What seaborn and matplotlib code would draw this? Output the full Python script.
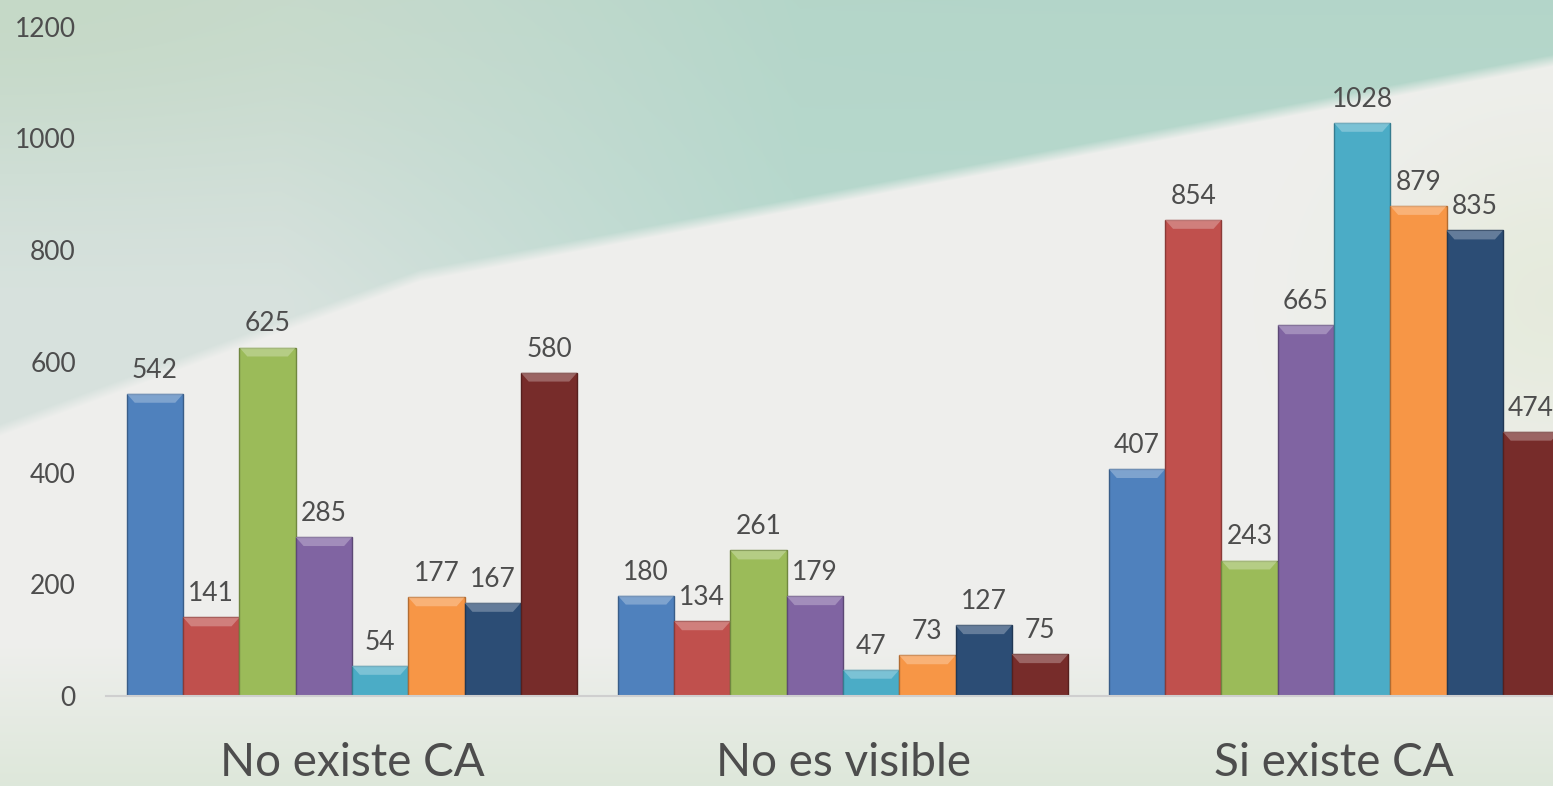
import numpy as np
import pandas as pd
import matplotlib
matplotlib.use("Agg")
import matplotlib.pyplot as plt
import matplotlib.colors as mcolors
from matplotlib.patches import Polygon
import seaborn as sns

# Data
categories = ["No existe CA", "No es visible", "Si existe CA"]
series = ["Serie 1", "Serie 2", "Serie 3", "Serie 4",
          "Serie 5", "Serie 6", "Serie 7", "Serie 8"]
values_no_existe = [542, 141, 625, 285, 54, 177, 167, 580]
values_no_visible = [180, 134, 261, 179, 47, 73, 127, 75]
values_si_existe = [407, 854, 243, 665, 1028, 879, 835, 474]
colors = ["#4F81BD", "#C0504D", "#9BBB59", "#8064A2",
          "#4BACC6", "#F79646", "#2C4D75", "#772C2A"]
y_ticks = [0, 200, 400, 600, 800, 1000, 1200]

rows = []
for cat, vals in zip(categories, [values_no_existe, values_no_visible, values_si_existe]):
    for s, v in zip(series, vals):
        rows.append({"categoria": cat, "serie": s, "valor": v})
df = pd.DataFrame(rows)

sns.set_style("white")
plt.rcParams['font.family'] = ['Lato', 'DejaVu Sans']
text_color = "#4d4d4d"

W, H = 1553, 786
fig = plt.figure(figsize=(W / 100, H / 100), dpi=100)

# background gradient
yy, xx = np.mgrid[0:H, 0:W].astype(float)
img = np.ones((H, W, 3)) * np.array([239, 239, 237]) / 255


def blend(base, color, alpha):
    return base * (1 - alpha[..., None]) + np.array(color) / 255 * alpha[..., None]


# pale green at the bottom
img = blend(img, (214, 228, 210), np.clip((yy - 640) / 146, 0, 1) * 0.7)
# teal band above the diagonal
boundary = np.where(xx < 420, 430 - xx * (155 / 420), 275 - (xx - 420) * (215 / 1133))
upper = np.clip((boundary - yy) / 12 + 0.5, 0, 1)
t = np.clip((xx - 280) / 520, 0, 1)
top_fade = np.clip(1 - yy / 300, 0, 1)
pale = np.array([216, 226, 222]) / 255
teal = np.array([184, 217, 207]) / 255
upper_col = (1 - t[..., None]) * pale + t[..., None] * teal
upper_col = upper_col * (1 - 0.35 * top_fade[..., None]) + np.array([172, 208, 190]) / 255 * 0.35 * top_fade[..., None]
img = img * (1 - upper[..., None]) + upper_col * upper[..., None]
# greenish top-left corner
img = blend(img, (196, 216, 194), np.exp(-((xx / 450) ** 2 + (yy / 150) ** 2)) * 0.7)
# pale yellow-green on the right side
img = blend(img, (226, 233, 214), np.exp(-(((xx - 1553) / 180) ** 2 + ((yy - 300) / 160) ** 2)) * 0.7 * (1 - upper))

bg = fig.add_axes([0, 0, 1, 1], zorder=-1)
bg.imshow(img, aspect="auto", extent=[0, W, H, 0])
bg.axis("off")

ax = fig.add_axes([106.5 / W, 90 / H, 1473 / W, 669 / H])
ax.patch.set_alpha(0)

sns.barplot(data=df, x="categoria", y="valor", hue="serie", palette=colors,
            width=0.917, saturation=1, legend=False, ax=ax, errorbar=None)

# bevel look on bars: lighter trapezoid on top
bars = list(ax.patches)
for patch in bars:
    rgb = np.array(mcolors.to_rgb(patch.get_facecolor()))
    patch.set_edgecolor(tuple(rgb * 0.72))
    patch.set_linewidth(1.0)
    x0, w, h = patch.get_x(), patch.get_width(), patch.get_height()
    dh = min(16, h * 0.4)
    dw = w * 0.14
    light = tuple(rgb * 0.55 + 0.45)
    ax.add_patch(Polygon([(x0, h), (x0 + w, h), (x0 + w - dw, h - dh), (x0 + dw, h - dh)],
                         closed=True, facecolor=light, edgecolor="none", alpha=0.6,
                         zorder=patch.get_zorder() + 0.1))

for cont in ax.containers:
    ax.bar_label(cont, padding=8, fontsize=19, color=text_color)

ax.set_ylim(0, 1200)
ax.set_xlim(-0.5, 2.5)
ax.set_yticks(y_ticks)
ax.tick_params(axis="y", length=0, pad=22, labelsize=19, labelcolor=text_color)
ax.tick_params(axis="x", length=0, pad=33, labelsize=33, labelcolor=text_color)
ax.set_xlabel("")
ax.set_ylabel("")
for side in ["top", "right", "left"]:
    ax.spines[side].set_visible(False)
ax.spines["bottom"].set_color("#cfcfcf")
ax.spines["bottom"].set_linewidth(1.5)

fig.savefig("out.png", dpi=100)
